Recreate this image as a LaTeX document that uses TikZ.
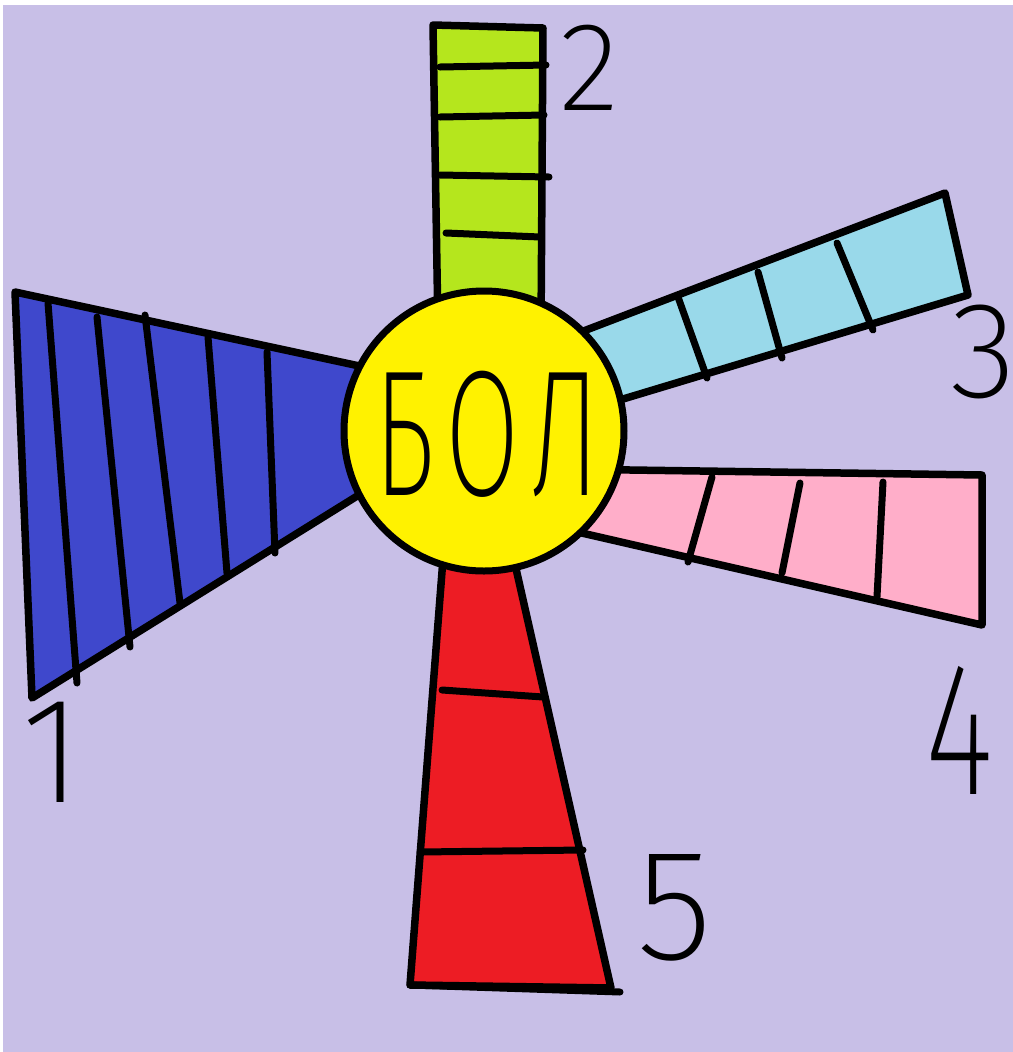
\documentclass[tikz,border=0pt]{standalone}
\usepackage{fontspec}
\IfFontExistsTF{Fira Sans ExtraLight}{\newfontfamily\handfont{Fira Sans ExtraLight}}{%
  \IfFontExistsTF{Fira Sans Light}{\newfontfamily\handfont{Fira Sans Light}}{\newfontfamily\handfont{Fira Sans}}}
\definecolor{bglilac}{HTML}{C8BFE7}
\definecolor{rayblue}{HTML}{3F48CC}
\definecolor{raylime}{HTML}{B5E61D}
\definecolor{rayaqua}{HTML}{99D9EA}
\definecolor{rayrose}{HTML}{FFAEC9}
\definecolor{rayred}{HTML}{ED1C24}
\definecolor{sunyellow}{HTML}{FFF200}

\begin{document}
\begin{tikzpicture}[x=0.1mm, y=-0.1mm,
    ray/.style={draw=black, line width=0.75mm, line join=round},
    rung/.style={draw=black, line width=0.7mm, line cap=round},
    sun/.style={circle, draw=black, line width=0.7mm, fill=sunyellow,
                minimum size=28mm, inner sep=0pt},
    numlab/.style={font=\handfont\fontsize{#1}{#1}\selectfont, inner sep=0pt}
]
\useasboundingbox (0,0) rectangle (1013,1052);
\fill[white] (0,0) rectangle (1013,1052);
\fill[bglilac] (3,5) rectangle (1013,1052);

\filldraw[ray, fill=rayblue] (15,292) -- (420,379) -- (420,457) -- (32,698) -- cycle;
\draw[rung] (48,303) -- (77,683);
\draw[rung] (97,317) -- (130,647);
\draw[rung] (145,315) -- (180,603);
\draw[rung] (208,337) -- (227,573);
\draw[rung] (267,352) -- (275,553);

\filldraw[ray, fill=raylime] (433,25) -- (543,28) -- (541,330) -- (438,330) -- cycle;
\draw[rung] (440,67) -- (546,65);
\draw[rung] (440,117) -- (544,115);
\draw[rung] (440,175) -- (549,177);
\draw[rung] (446,233) -- (540,237);

\filldraw[ray, fill=rayaqua] (560,340) -- (945,193) -- (968,295) -- (560,418) -- cycle;
\draw[rung] (678,297) -- (707,378);
\draw[rung] (758,272) -- (782,358);
\draw[rung] (837,243) -- (873,330);

\filldraw[ray, fill=rayrose] (560,469) -- (982,475) -- (982,625) -- (560,528) -- cycle;
\draw[rung] (712,477) -- (688,562);
\draw[rung] (800,483) -- (782,573);
\draw[rung] (883,482) -- (877,597);

\filldraw[ray, fill=rayred] (446,520) -- (505,520) -- (611,988) -- (410,985) -- cycle;
\draw[rung] (410,985) -- (620,992);
\draw[rung] (442,690) -- (543,697);
\draw[rung] (420,852) -- (583,850);

\node[sun] (bol) at (484,431) {};
\node[font=\handfont\fontsize{51}{51}\selectfont, inner sep=0pt] (word) at (487,434)
    {\scalebox{0.6}[1]{Б\kern5ptО\kern5ptЛ}};

\node[numlab=43] (n1) at (52,752) {1};
\node[numlab=36] (n2) at (589,68) {2};
\node[numlab=39] (n3) at (984,352) {3};
\node[numlab=54] (n4) at (960,730) {\scalebox{0.7}[1]{4}};
\node[numlab=45] (n5) at (675,908) {5};
\end{tikzpicture}
\end{document}
